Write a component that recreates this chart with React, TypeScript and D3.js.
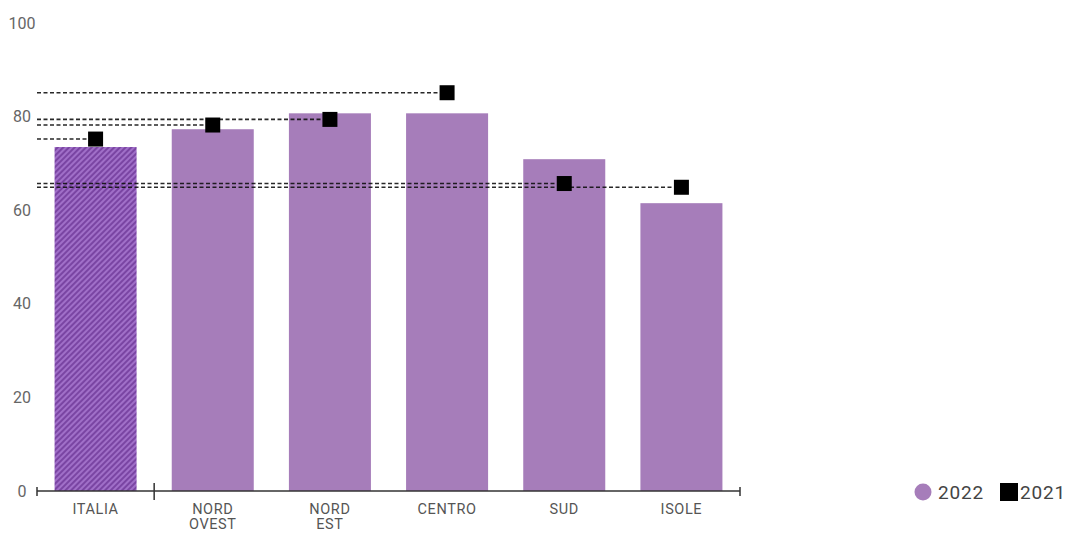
import React from "react";
import * as d3 from "d3";

const categories = ["ITALIA", "NORD\nOVEST", "NORD\nEST", "CENTRO", "SUD", "ISOLE"];
const values2022 = [73.5, 77.3, 80.7, 80.7, 70.9, 61.5];
const values2021 = [75.2, 78.2, 79.4, 85.1, 65.7, 64.9];
const yTicks = [0, 20, 40, 60, 80, 100];

const W = 1068;
const H = 535;

export default function App() {
  const x = d3.scaleBand<number>().domain(d3.range(categories.length)).range([37, 740]).paddingInner(0.3).paddingOuter(0.15);
  const y = d3.scaleLinear().domain([0, 100]).range([491, 23]);
  const barColor = "#a67dba";
  const font = "Roboto, 'Noto Sans', sans-serif";
  const sq = 15;
  const step = x.step();
  const midTick = 37 + step;

  return (
    <svg width={W} height={H} style={{ position: "absolute", left: 0, top: 0 }} fontFamily={font}>
      <defs>
        <pattern id="hatch" patternUnits="userSpaceOnUse" width="4" height="4" patternTransform="rotate(45)">
          <rect width="4" height="4" fill="#a06fc8" />
          <rect width="2" height="4" fill="#7a45a3" />
        </pattern>
      </defs>
      <rect width={W} height={H} fill="#fff" />
      {yTicks.map((t) => (
        <text key={t} x={22} y={y(t)} dy="0.35em" textAnchor="middle" fontSize={16} fill="#666">
          {t}
        </text>
      ))}
      {values2022.map((v, i) => (
        <rect
          key={i}
          x={x(i)}
          y={y(v)}
          width={x.bandwidth()}
          height={y(0) - y(v)}
          fill={i === 0 ? "url(#hatch)" : barColor}
        />
      ))}
      {values2021.map((v, i) => (
        <line
          key={"l" + i}
          x1={37}
          x2={(x(i) as number) + x.bandwidth() / 2}
          y1={y(v)}
          y2={y(v)}
          stroke="#111"
          strokeWidth={1.6}
          strokeDasharray="4,2.5"
          opacity={0.9}
        />
      ))}
      {values2021.map((v, i) => (
        <rect
          key={"s" + i}
          x={(x(i) as number) + x.bandwidth() / 2 - sq / 2}
          y={y(v) - sq / 2}
          width={sq}
          height={sq}
          fill="#000"
        />
      ))}
      <line x1={37} x2={740} y1={y(0)} y2={y(0)} stroke="#333" strokeWidth={1.5} />
      <line x1={37} x2={37} y1={y(0) - 4} y2={y(0) + 5} stroke="#333" strokeWidth={1.5} />
      <line x1={midTick} x2={midTick} y1={y(0) - 8} y2={y(0) + 9} stroke="#333" strokeWidth={1.5} />
      <line x1={740} x2={740} y1={y(0) - 4} y2={y(0) + 5} stroke="#333" strokeWidth={1.5} />
      {categories.map((c, i) => {
        const lines = c.split("\n");
        const cx = (x(i) as number) + x.bandwidth() / 2;
        return (
          <text key={"c" + i} x={cx} y={514} textAnchor="middle" fontSize={14.5} letterSpacing={0.6} fill="#555">
            {lines.map((ln, j) => (
              <tspan key={j} x={cx} dy={j === 0 ? 0 : 15}>
                {ln}
              </tspan>
            ))}
          </text>
        );
      })}
      <g>
        <circle cx={923} cy={492} r={8.5} fill={barColor} />
        <text x={938} y={492} dy="0.35em" fontSize={19} letterSpacing={0.8} fill="#444">2022</text>
        <rect x={1000} y={483} width={18} height={18} fill="#000" />
        <text x={1020} y={492} dy="0.35em" fontSize={19} letterSpacing={0.8} fill="#444">2021</text>
      </g>
    </svg>
  );
}
